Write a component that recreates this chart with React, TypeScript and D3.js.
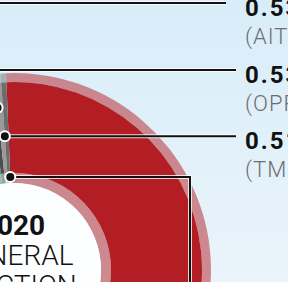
import React from "react";
import * as d3 from "d3";

// vote share by party, clockwise from the top
const parties = ["BJP", "INC", "CPI(M)", "AITC", "OPP", "TMC", "IND"];
const shares = [47.8, 28.4, 21.3, 0.53, 0.53, 0.51, 0.45];
const colors = ["#b31e24", "#3b6fb0", "#3f9a5c", "#3f9a5c", "#4d4d4d", "#9a9a9a", "#6d6d6d"];

// small parties that get a callout
const calloutParties = ["AITC", "OPP", "TMC", "IND"];
const calloutNames = ["(AITC)", "(OPPN)", "(TMC)", "(IND)"];

const centerLines = ["2020", "GENERAL", "ELECTION"];

const width = 288;
const height = 282;

const App = () => {
  const cx = 14;
  const cy = 270;
  const start = (-2.3 * Math.PI) / 180;

  const pie = d3
    .pie<number>()
    .sort(null)
    .value((d) => d)
    .startAngle(start)
    .endAngle(start + 2 * Math.PI);
  const arcs = pie(shares);

  const mainArc = d3.arc<any>().innerRadius(97).outerRadius(188);
  const outerBand = d3.arc<any>().innerRadius(188).outerRadius(197);
  const innerBand = d3.arc<any>().innerRadius(87).outerRadius(97);

  // leader layout per callout
  const leaders = [
    { r: 200, elbowY: 3, endX: 226 },
    { r: 163, elbowY: 70, endX: 236 },
    { r: 134, elbowY: null, endX: 236 },
    { r: 93, elbowY: null, endX: 190, downY: 320 },
  ];

  const fmt = d3.format(".2f");

  return (
    <svg
      width={width}
      height={height}
      style={{ position: "fixed", left: 0, top: 0 }}
      fontFamily="Roboto, sans-serif"
    >
      <defs>
        <linearGradient id="bg" x1="0" y1="0" x2="0" y2="1">
          <stop offset="0" stopColor="#d8edf9" />
          <stop offset="1" stopColor="#eaf4fa" />
        </linearGradient>
      </defs>
      <rect width={width} height={height} fill="url(#bg)" />

      <g transform={`translate(${cx},${cy})`}>
        {arcs.map((a, i) => (
          <g key={parties[i]}>
            <path d={outerBand(a)} fill={colors[i]} opacity={0.5} />
            <path d={innerBand(a)} fill={colors[i]} opacity={0.5} />
            <path d={mainArc(a)} fill={colors[i]} />
          </g>
        ))}
        <circle r={87} fill="#fdfeff" />
        {centerLines.map((t, i) => (
          <text
            key={t}
            x={-1}
            y={-35 + i * 30}
            textAnchor="middle"
            fontSize={28}
            fontWeight={i === 0 ? 700 : 300}
            fill="#111"
          >
            {t}
          </text>
        ))}
      </g>

      {calloutParties.map((p, i) => {
        const a = arcs[parties.indexOf(p)];
        const L = leaders[i];
        const ang = a.endAngle;
        const x = cx + L.r * Math.sin(ang);
        const y = cy - L.r * Math.cos(ang);
        let d: string;
        let lineY: number;
        if (L.downY) {
          d = `M${x},${y}H${L.endX}V${L.downY}`;
          lineY = L.downY;
        } else if (L.elbowY !== null) {
          d = `M${x},${y}V${L.elbowY}H${L.endX}`;
          lineY = L.elbowY;
        } else {
          d = `M${x},${y}H${L.endX}`;
          lineY = y;
        }
        const lx = L.downY ? L.endX : 245;
        return (
          <g key={p}>
            <path d={d} fill="none" stroke="#fff" strokeOpacity={0.8} strokeWidth={4} />
            <path d={d} fill="none" stroke="#111" strokeWidth={2} />
            <circle cx={x} cy={y} r={5} fill="#111" stroke="#fff" strokeWidth={2} />
            <text x={lx} y={lineY + 13} fontSize={24} fontWeight={700} fill="#111" letterSpacing={2}>
              {fmt(shares[parties.indexOf(p)])}%
            </text>
            <text x={lx} y={lineY + 41} fontSize={22} fontWeight={300} fill="#6e6e6e" letterSpacing={1}>
              {calloutNames[i]}
            </text>
          </g>
        );
      })}
    </svg>
  );
};

export default App;
